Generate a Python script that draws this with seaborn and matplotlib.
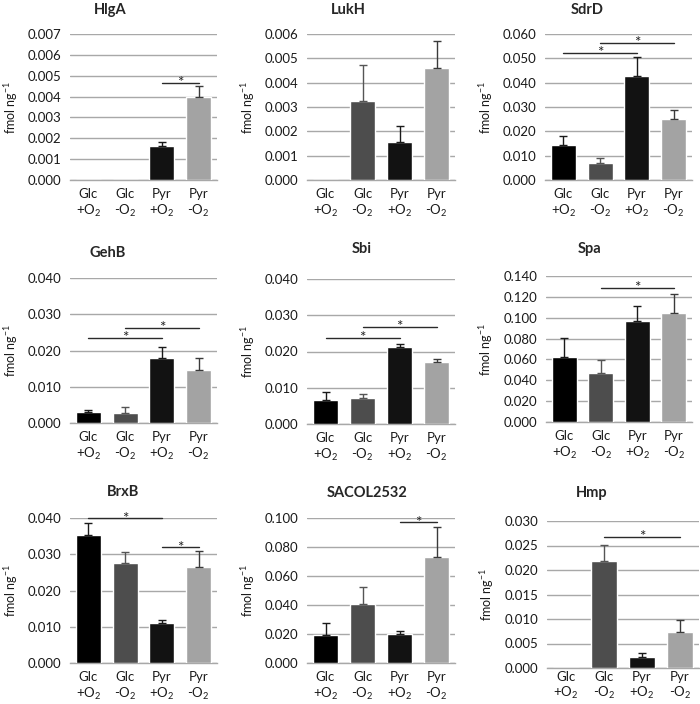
import matplotlib
matplotlib.use("Agg")
import matplotlib.pyplot as plt
import seaborn as sns
import pandas as pd

# conditions and colours
conditions = ["Glc\n+O$_2$", "Glc\n-O$_2$", "Pyr\n+O$_2$", "Pyr\n-O$_2$"]
bar_colors = ["#000000", "#4d4d4d", "#121212", "#a3a3a3"]
err_colors = ["#1a1a1a", "#555555", "#1a1a1a", "#3a3a3a"]

proteins = ["HlgA", "LukH", "SdrD", "GehB", "Sbi", "Spa", "BrxB", "SACOL2532", "Hmp"]

# means (fmol ng-1)
hlga_mean = [0.0, 0.0, 0.00162, 0.0040]
lukh_mean = [0.0, 0.00323, 0.00155, 0.0046]
sdrd_mean = [0.0144, 0.0071, 0.0429, 0.0250]
gehb_mean = [0.0029, 0.0027, 0.0180, 0.0147]
sbi_mean = [0.0066, 0.0073, 0.0213, 0.0171]
spa_mean = [0.062, 0.047, 0.097, 0.105]
brxb_mean = [0.0352, 0.0277, 0.0109, 0.0265]
sacol_mean = [0.0195, 0.0405, 0.0202, 0.0730]
hmp_mean = [0.0, 0.0218, 0.0023, 0.0073]

# upper error bars
hlga_err = [0.0, 0.0, 0.00022, 0.0005]
lukh_err = [0.0, 0.0015, 0.00065, 0.0011]
sdrd_err = [0.0035, 0.0018, 0.0077, 0.0039]
gehb_err = [0.0007, 0.0016, 0.0031, 0.0033]
sbi_err = [0.0022, 0.0010, 0.0009, 0.0009]
spa_err = [0.019, 0.012, 0.014, 0.018]
brxb_err = [0.0034, 0.0028, 0.0009, 0.0043]
sacol_err = [0.0078, 0.0120, 0.0022, 0.0210]
hmp_err = [0.0, 0.0033, 0.0008, 0.0024]

# significance brackets: (from bar, to bar, height)
hlga_sig = [(2, 3, 0.00465)]
lukh_sig = []
sdrd_sig = [(0, 2, 0.0523), (1, 3, 0.0564)]
gehb_sig = [(0, 2, 0.0234), (1, 3, 0.0262)]
sbi_sig = [(0, 2, 0.0238), (1, 3, 0.0267)]
spa_sig = [(1, 3, 0.1288)]
brxb_sig = [(0, 2, 0.0399), (2, 3, 0.0319)]
sacol_sig = [(2, 3, 0.0970)]
hmp_sig = [(1, 3, 0.0268)]

# y axis maxima and steps
y_max = [0.007, 0.006, 0.060, 0.040, 0.040, 0.140, 0.040, 0.100, 0.030]
y_step = [0.001, 0.001, 0.010, 0.010, 0.010, 0.020, 0.010, 0.020, 0.005]

means = [hlga_mean, lukh_mean, sdrd_mean, gehb_mean, sbi_mean,
         spa_mean, brxb_mean, sacol_mean, hmp_mean]
errs = [hlga_err, lukh_err, sdrd_err, gehb_err, sbi_err,
        spa_err, brxb_err, sacol_err, hmp_err]
sigs = [hlga_sig, lukh_sig, sdrd_sig, gehb_sig, sbi_sig,
        spa_sig, brxb_sig, sacol_sig, hmp_sig]

# panel boxes in pixels (x0, y0, x1, y1) from top-left, and title anchors
boxes = [(70, 34, 217, 180), (307, 34, 455, 180), (545, 34, 692, 180),
         (70, 278, 217, 423), (307, 279, 455, 424), (546, 276, 692, 422),
         (70, 518, 217, 663), (307, 518, 455, 663), (547, 521, 699, 668)]
titles_xy = [(110, 10), (348, 10), (587, 10),
             (108, 253), (362, 249), (590, 249),
             (123, 492), (367, 493), (592, 493)]
xpads = [6, 6, 6, 6, 6, 6, 6, 6, 2]

sns.set_theme(style="white")
plt.rcParams["font.family"] = ["Lato", "DejaVu Sans"]
plt.rcParams["mathtext.default"] = "regular"

W, H = 700, 704
fig = plt.figure(figsize=(W / 100, H / 100), dpi=100)

for i, name in enumerate(proteins):
    x0, y0, x1, y1 = boxes[i]
    ax = fig.add_axes([x0 / W, 1 - y1 / H, (x1 - x0) / W, (y1 - y0) / H])
    df = pd.DataFrame({"cond": conditions, "val": means[i]})
    sns.barplot(data=df, x="cond", y="val", hue="cond", palette=bar_colors,
                order=conditions, hue_order=conditions, width=0.68,
                legend=False, ax=ax, errorbar=None, zorder=3)
    for j in range(4):
        if errs[i][j] > 0:
            ax.errorbar(j, means[i][j], yerr=[[0], [errs[i][j]]], fmt="none",
                        ecolor=err_colors[j], elinewidth=1, capsize=3,
                        capthick=1, zorder=4)
    for a, b, h in sigs[i]:
        ax.plot([a, b], [h, h], color="#2a2a2a", lw=1, clip_on=False, zorder=5)
        ax.annotate("*", xy=((a + b) / 2, h), xytext=(0, -3),
                    textcoords="offset points", ha="center", va="baseline",
                    fontsize=11, color="#222222", annotation_clip=False)

    n = int(round(y_max[i] / y_step[i]))
    ticks = [k * y_step[i] for k in range(n + 1)]
    ax.set_ylim(0, y_max[i])
    ax.set_yticks(ticks)
    ax.set_yticklabels([f"{t:.3f}" for t in ticks], fontsize=9.5, color="#1a1a1a")
    ax.set_xlim(-0.5, 3.5)
    ax.tick_params(axis="x", labelsize=9.5, length=0, pad=xpads[i], colors="#1a1a1a")
    ax.tick_params(axis="y", length=0, pad=6)
    ax.yaxis.grid(True, color="#a8a8a8", lw=1)
    ax.set_axisbelow(True)
    for s in ["top", "right", "left"]:
        ax.spines[s].set_visible(False)
    ax.spines["bottom"].set_color("#a8a8a8")
    ax.spines["bottom"].set_linewidth(1)
    ax.set_xlabel("")
    ax.set_ylabel("fmol ng$^{-1}$", fontsize=9, color="#1a1a1a", labelpad=6)

    tx, ty = titles_xy[i]
    fig.text(tx / W, 1 - ty / H, name, ha="center", va="center",
             fontsize=10.5, fontweight="bold")

fig.savefig("out.png", dpi=100)
